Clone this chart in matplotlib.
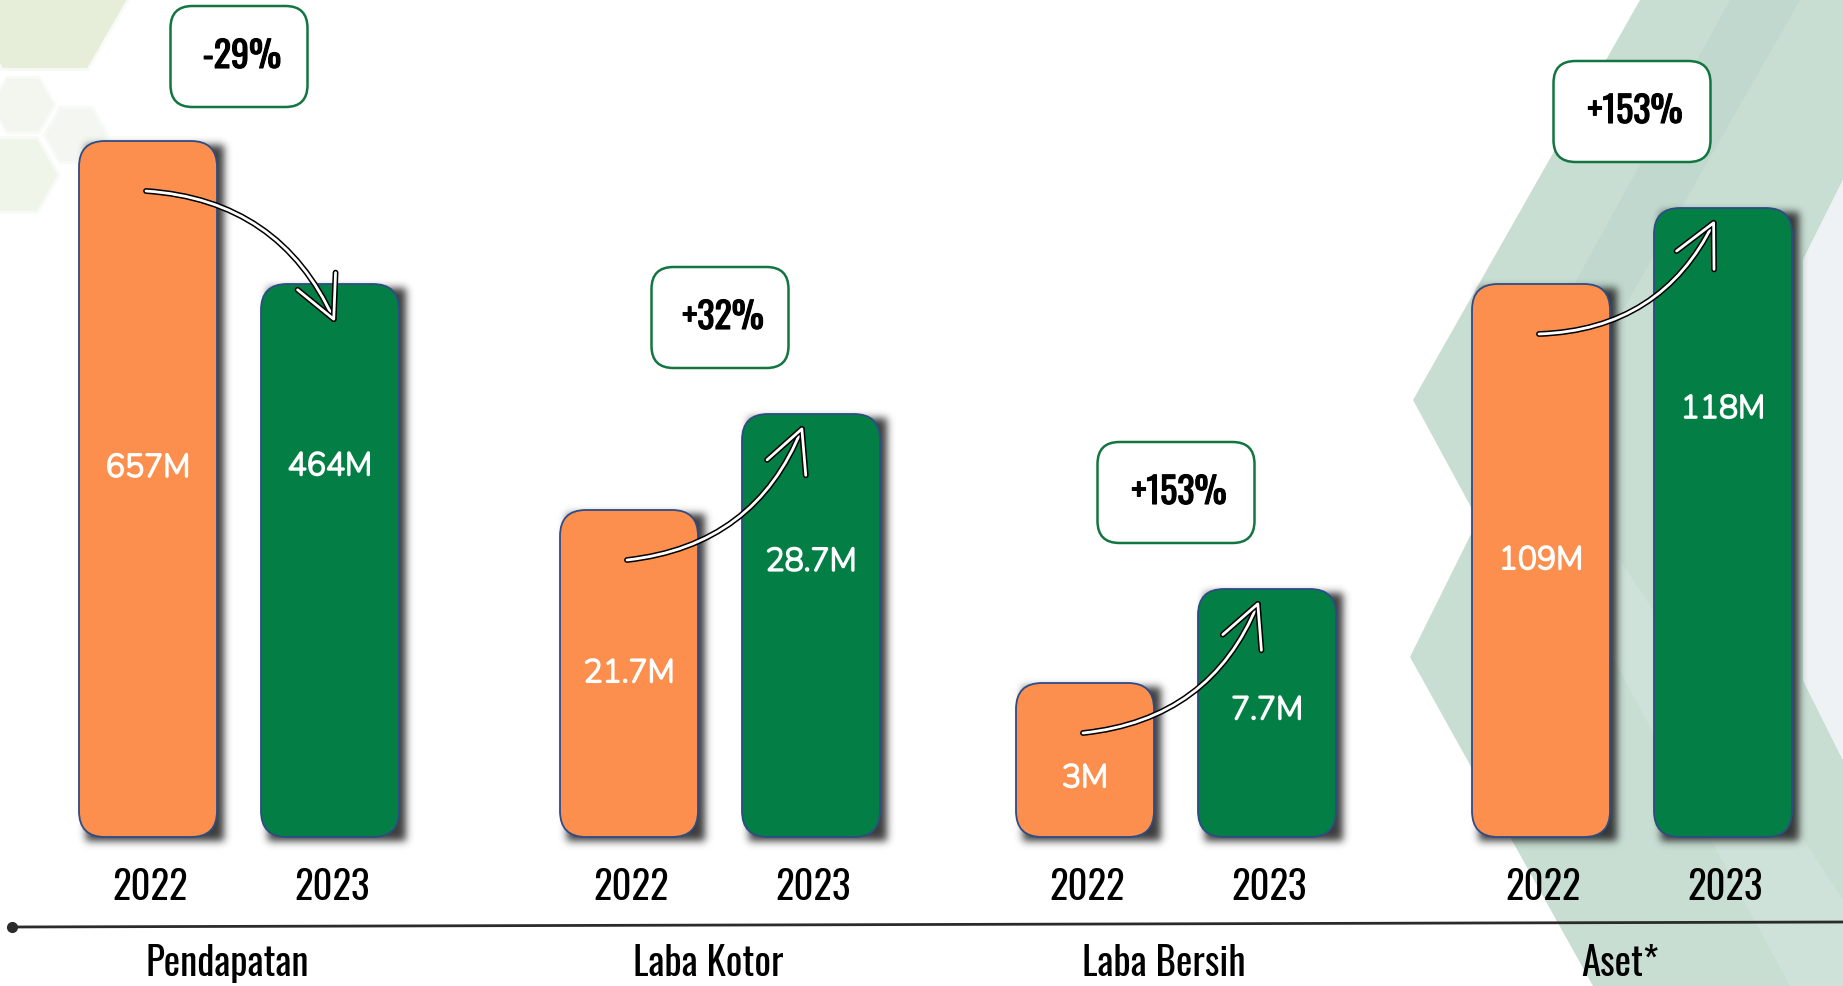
import numpy as np
import matplotlib
matplotlib.use("Agg")
import matplotlib.pyplot as plt
from matplotlib import font_manager as fm
from matplotlib.patches import FancyBboxPatch, Polygon, RegularPolygon
import matplotlib.patheffects as pe

# data
categories = ['Pendapatan', 'Laba Kotor', 'Laba Bersih', 'Aset*']
years = ['2022', '2023']
labels_2022 = ['657M', '21.7M', '3M', '109M']
labels_2023 = ['464M', '28.7M', '7.7M', '118M']
changes = ['-29%', '+32%', '+153%', '+153%']
# bar heights as drawn in the picture (each group has its own scale)
height_2022 = [696, 327, 154, 553]
height_2023 = [553, 423, 248, 629]
# where the value label sits inside the bar (fraction of bar height)
lab_frac_2022 = [0.53, 0.50, 0.38, 0.50]
lab_frac_2023 = [0.67, 0.65, 0.51, 0.68]

ORANGE = '#FD8F4E'
GREEN = '#037F45'
EDGE = '#2D4C86'
BOX_EDGE = '#137540'

# fonts
names = {f.name for f in fm.fontManager.ttflist}
cond_font = next((n for n in ['Oswald', 'Roboto Condensed', 'Liberation Sans Narrow',
                              'Open Sans Condensed'] if n in names), 'DejaVu Sans')
val_font = next((n for n in ['Nunito', 'Mulish', 'Open Sans', 'Lato'] if n in names), 'DejaVu Sans')

W, H = 1843, 986
BASE = 837  # pixel row of bar bottoms
fig = plt.figure(figsize=(W / 100, H / 100), dpi=100)
ax = fig.add_axes([0, 0, 1, 1])
ax.set_xlim(0, W)
ax.set_ylim(BASE - H, BASE)
ax.axis('off')


def py(p):  # pixel row (from top) -> data y
    return BASE - p


# background decoration: hexagons top-left
for (cx, cy, r, col) in [(45, -5, 86, '#E6EEDA'), (23, 105, 32, '#F2F6EE'),
                         (76, 135, 32, '#F4F7F1'), (16, 175, 43, '#F0F5EA')]:
    ax.add_patch(RegularPolygon((cx, py(cy)), 6, radius=r, orientation=np.pi / 6,
                                fc=col, ec='#F8FAF6', lw=2, zorder=0))

# background decoration: chevron band on the right
chev = [(1640, 0), (1843, 0), (1843, 180), (1803, 260), (1803, 680), (1843, 760),
        (1843, 986), (1593, 986), (1410, 657), (1478, 520), (1413, 400)]
ax.add_patch(Polygon([(x, py(y)) for x, y in chev], closed=True, fc='#C8DED3', ec='none', zorder=0))
stripe = [(1730, 0), (1800, 0), (1560, 420), (1500, 420)]
ax.add_patch(Polygon([(x, py(y)) for x, y in stripe], closed=True, fc='#BCD4C9', ec='none',
                     alpha=0.6, zorder=0))
stripe2 = [(1560, 560), (1620, 560), (1843, 900), (1843, 986), (1790, 986)]
ax.add_patch(Polygon([(x, py(y)) for x, y in stripe2], closed=True, fc='#D2E5DC', ec='none',
                     alpha=0.7, zorder=0))
right = [(1843, 180), (1803, 260), (1803, 680), (1843, 760)]
ax.add_patch(Polygon([(x, py(y)) for x, y in right], closed=True, fc='#EEF2F4', ec='none', zorder=0))

# layout
centers = 264 + 456 * np.arange(len(categories)).astype(float)
centers[0] -= 25
off, bw, rad = 91, 138, 26
x22s = centers - off
x23s = centers + off


def rbox(x0, y0, w, h, r, **kw):
    return FancyBboxPatch((x0, y0), w, h, boxstyle=f'round,pad=0,rounding_size={r}', **kw)


# blurred drop shadow under the bars, drawn as an image
mask = np.zeros((H, W))
for xs, hs in [(x22s, height_2022), (x23s, height_2023)]:
    for xc, h in zip(xs, hs):
        c0, c1 = int(xc - bw / 2 + 7), int(xc + bw / 2 + 7)
        r0, r1 = int(BASE - h + 4), int(BASE + 4)
        mask[r0:r1, c0:c1] = 1.0
sig = 4.0
k = np.exp(-0.5 * (np.arange(-12, 13) / sig) ** 2)
k /= k.sum()
mask = np.apply_along_axis(lambda v: np.convolve(v, k, mode='same'), 1, mask)
mask = np.apply_along_axis(lambda v: np.convolve(v, k, mode='same'), 0, mask)
shadow = np.zeros((H, W, 4))
shadow[..., :3] = 0.1
shadow[..., 3] = np.clip(mask * 0.85, 0, 1)
ax.imshow(shadow, extent=(0, W, BASE - H, BASE), origin='upper', zorder=2,
          interpolation='bilinear', aspect='auto')
ax.set_xlim(0, W)
ax.set_ylim(BASE - H, BASE)

val_fx = [pe.withStroke(linewidth=1.5, foreground='white')]
for i, cat in enumerate(categories):
    x22, x23 = x22s[i], x23s[i]
    h22, h23 = height_2022[i], height_2023[i]
    ax.add_patch(rbox(x22 - bw / 2, 0, bw, h22, rad, fc=ORANGE, ec=EDGE, lw=1.3, zorder=3))
    ax.add_patch(rbox(x23 - bw / 2, 0, bw, h23, rad, fc=GREEN, ec=EDGE, lw=1.3, zorder=3))

    ax.text(x22, h22 * lab_frac_2022[i], labels_2022[i], color='white', fontsize=23,
            fontfamily=val_font, ha='center', va='center', zorder=5, path_effects=val_fx)
    ax.text(x23, h23 * lab_frac_2023[i], labels_2023[i], color='white', fontsize=23,
            fontfamily=val_font, ha='center', va='center', zorder=5, path_effects=val_fx)

    for xc, yr in [(x22, years[0]), (x23, years[1])]:
        ax.text(xc + 2, py(900), yr, fontsize=28, fontfamily=cond_font, ha='center',
                va='baseline', color='black', zorder=5)
    ax.text(centers[i] - 12, py(976), cat, fontsize=28, fontfamily=cond_font, ha='center',
            va='baseline', color='black', zorder=5)

    # change box, kept inside the figure
    bwid = 137 if len(changes[i]) < 5 else 157
    top = min(max(h22, h23) + 46, BASE - 6 - 101)
    ax.add_patch(rbox(centers[i] - bwid / 2, top, bwid, 101, 22, fc='white', ec=BOX_EDGE,
                      lw=1.8, zorder=4))
    ax.text(centers[i] + 3, top + 50, changes[i], fontsize=26, fontweight='bold',
            fontfamily=cond_font, ha='center', va='center', color='black', zorder=5,
            path_effects=[pe.withStroke(linewidth=0.8, foreground='black')])

    # curved arrow
    up = h23 >= h22
    start = (x22 - 2, h22 - 50)
    end = (x23 - 8, h23 - 12) if up else (x23 + 5, h23 - 38)
    ax.annotate('', xy=end, xytext=start, zorder=6,
                arrowprops=dict(arrowstyle='->,head_length=1.5,head_width=0.75',
                                connectionstyle=f'arc3,rad={0.3 if up else -0.3}',
                                color='white', lw=2.0, mutation_scale=20,
                                shrinkA=0, shrinkB=0,
                                path_effects=[pe.withStroke(linewidth=4.2, foreground='black')]))

# baseline with dot
ax.plot([12, W], [py(927), py(922)], color='#2B2B2B', lw=2, zorder=2, solid_capstyle='butt')
ax.plot([12], [py(927)], 'o', color='#2B2B2B', ms=7, zorder=2)

fig.savefig('out.png', dpi=100, facecolor='white')
